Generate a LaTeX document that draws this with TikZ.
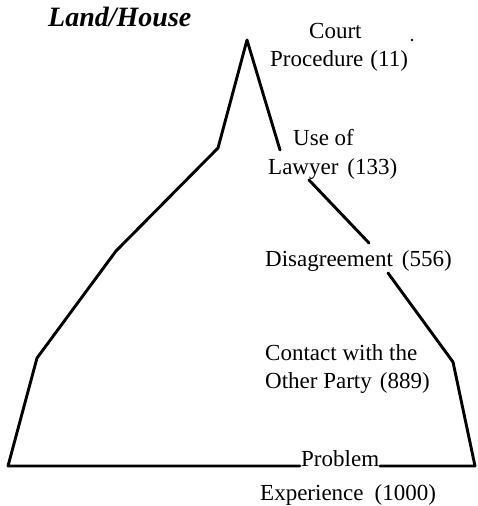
\documentclass[tikz,border=0pt]{standalone}
\usepackage{fontspec}
\setmainfont{Liberation Serif}
\begin{document}
\begin{tikzpicture}[x=1pt,y=-1pt,
  outline/.style={line width=2.9pt,line join=round,line cap=round},
  lbl/.style={anchor=base west,inner sep=0pt,font=\fontsize{23}{26}\selectfont},
  title/.style={anchor=base west,inner sep=0pt,font=\fontsize{28}{31}\selectfont\bfseries\itshape}]
\useasboundingbox (0,0) rectangle (478,506);
% pyramid corners
\coordinate (bl) at (8,466);
\coordinate (l1) at (37,358);
\coordinate (l2) at (116,251);
\coordinate (l3) at (218,148);
\coordinate (apex) at (247,40);
\coordinate (r1) at (280,150);
\coordinate (r2a) at (309,180);
\coordinate (r2b) at (369,243);
\coordinate (r3a) at (388,273);
\coordinate (r3b) at (453,362);
\coordinate (br) at (475,466);
\coordinate (ba) at (300,466);
\coordinate (bb) at (380,466);
% outline
\draw[outline] (ba) -- (bl) -- (l1) -- (l2) -- (l3) -- (apex) -- (r1);
\draw[outline] (r2a) -- (r2b);
\draw[outline] (r3a) -- (r3b) -- (br) -- (bb);
% labels
\node[title] (ttl) at (48,26) {Land/House};
\node[lbl] (court) at (309,38) {Court};
\node[lbl] (proc) at (270,66) {Procedure\hspace{7pt}(11)};
\node[lbl] (use) at (293,145) {Use of};
\node[lbl] (lawyer) at (268,174) {Lawyer\hspace{9pt}(133)};
\node[lbl] (dis) at (265,266) {Disagreement\hspace{9pt}(556)};
\node[lbl] (contact) at (265,360) {Contact with the};
\node[lbl] (other) at (265,388) {Other Party\hspace{8pt}(889)};
\node[lbl] (prob) at (301,466) {Problem};
\node[lbl] (exp) at (260,500) {Experience\hspace{11pt}(1000)};
\fill (412,40) circle (1.4);
\end{tikzpicture}
\end{document}
